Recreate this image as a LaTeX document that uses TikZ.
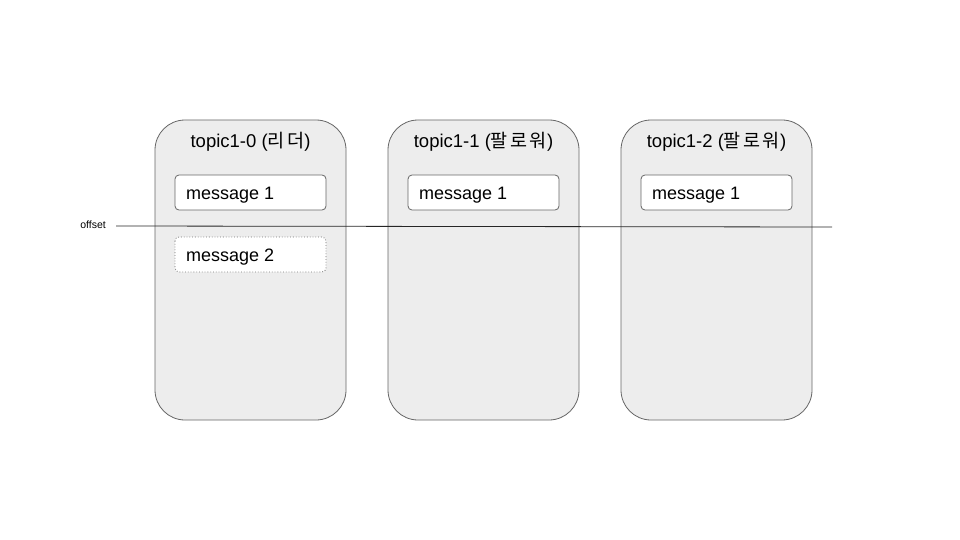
\documentclass[tikz,border=0pt]{standalone}
\usepackage{fontspec}
\setmainfont{Liberation Sans}
\newfontfamily\kr{Noto Sans CJK KR}
\begin{document}
\begin{tikzpicture}[x=1pt,y=-1pt,
  part/.style={draw=black!60,fill=black!7,rounded corners=30pt,line width=0.8pt},
  msg/.style={draw=black!60,fill=white,rounded corners=4pt,line width=0.8pt},
  msgdot/.style={draw=black!55,fill=white,rounded corners=4pt,dotted,line width=0.8pt},
  ttl/.style={font=\fontsize{18.5}{20}\selectfont,inner sep=0pt,anchor=base},
  mtxt/.style={font=\fontsize{18}{20}\selectfont,inner sep=0pt,anchor=base west}]
\useasboundingbox (0,0) rectangle (960,540);
\foreach \n/\x/\t in {p0/155/{topic1-0 ({\kr 리\kern2.5pt 더})},p1/388/{topic1-1 ({\kr 팔\kern2.5pt 로\kern2.5pt 워})},p2/621/{topic1-2 ({\kr 팔\kern2.5pt 로\kern2.5pt 워})}}{
  \path[part] (\x,120) rectangle ++(191,300);
  \node[ttl] (\n t) at (\x+95.5,147.3) {\t};
  \path[msg] (\x+20,175) rectangle ++(151,35);
  \node[mtxt] (\n m) at (\x+31,199) {message 1};
}
\path[msgdot] (175,237) rectangle ++(151,35);
\node[mtxt] (p0m2) at (186,261.3) {message 2};
\node[font=\fontsize{10.5}{12}\selectfont,inner sep=0pt,anchor=base east] (off) at (106,228.5) {offset};
\coordinate (ls) at (116,226);
\coordinate (le) at (832,227);
\draw[line width=0.8pt,black!85] (ls) -- (le);
\end{tikzpicture}
\end{document}
